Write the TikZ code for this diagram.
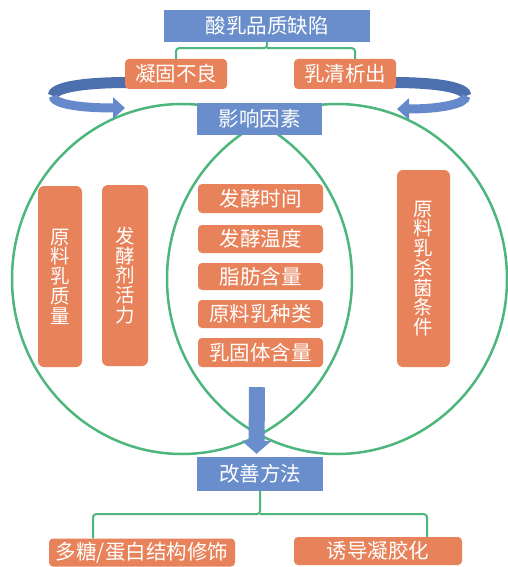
\documentclass[tikz,border=0pt]{standalone}
\usepackage{fontspec}
\newfontfamily\cjk{Noto Sans CJK SC}
\usetikzlibrary{arrows.meta,calc,backgrounds}
\definecolor{org}{HTML}{E8825A}
\definecolor{blu}{HTML}{6A8ECB}
\definecolor{grn}{HTML}{4DB67D}
\definecolor{arb}{HTML}{6589CB}
\definecolor{ard}{HTML}{4C6FAE}
\begin{document}
\begin{tikzpicture}[x=1pt,y=-1pt,
  txt/.style={text=white,inner sep=0pt,font=\cjk\fontsize{20.5}{21}\selectfont},
  obox/.style={txt,fill=org,rounded corners=4pt},
  bbox/.style={txt,fill=blu},
  vbox/.style={obox,rounded corners=6pt,align=center,font=\cjk\fontsize{19.5}{19.7}\selectfont},
  gline/.style={draw=grn,line width=2pt},
  circ/.style={draw=grn,line width=2.5pt}]
\useasboundingbox (0,0) rectangle (508,567);

% header
\node[bbox,minimum width=206pt,minimum height=32pt] (top) at (267,26) {酸乳品质缺陷};
\node[obox,minimum width=102pt,minimum height=30pt] (b1) at (176,74) {凝固不良};
\node[obox,minimum width=102pt,minimum height=30pt] (b2) at (345,74) {乳清析出};
\node[bbox,minimum width=125pt,minimum height=32pt] (f) at (259.5,119) {影响因素};

% factors
\node[vbox,minimum width=44pt,minimum height=181pt] (l1) at (60,276.5) {原\\料\\乳\\质\\量};
\node[vbox,minimum width=46pt,minimum height=181pt] (l2) at (125,275.5) {发\\酵\\剂\\活\\力};
\node[vbox,minimum width=53pt,minimum height=197pt] (r1) at (423.5,268.5) {原\\料\\乳\\杀\\菌\\条\\件};
\node[obox,minimum width=125pt,minimum height=29pt] (c1) at (260.5,198.5) {发酵时间};
\node[obox,minimum width=125pt,minimum height=28pt] (c2) at (260.5,239) {发酵温度};
\node[obox,minimum width=125pt,minimum height=27pt] (c3) at (260.5,276.5) {脂肪含量};
\node[obox,minimum width=125pt,minimum height=28pt] (c4) at (260.5,314) {原料乳种类};
\node[obox,minimum width=125pt,minimum height=29pt] (c5) at (260.5,352.5) {乳固体含量};

% improvement
\node[bbox,minimum width=126pt,minimum height=34pt] (m) at (260,474) {改善方法};
\node[obox,minimum width=186pt,minimum height=28pt] (d1) at (142,552.5) {多糖/蛋白结构修饰};
\node[obox,minimum width=168pt,minimum height=28pt] (d2) at (378,551) {诱导凝胶化};

\begin{scope}[on background layer]
  \draw[circ] (182,279) ellipse [x radius=170pt, y radius=175pt];
  \draw[circ] (337,279) ellipse [x radius=170pt, y radius=175pt];
  % left curved arrow
  \coordinate (la0) at ($(b1.west)+(4,8.5)$);
  \coordinate (la1) at (53,96);
  \coordinate (la2) at (125,108);
  \draw[line width=11pt,draw=ard] (la0) .. controls (80,82.5) and (53,88) .. (la1);
  \draw[line width=9pt,draw=arb,-{Triangle[width=21pt,length=12pt]}] (la1) .. controls (53,104) and (80,108) .. (la2);
  % right curved arrow
  \coordinate (ra0) at ($(b2.east)+(-4,8.5)$);
  \coordinate (ra1) at (466,96);
  \coordinate (ra2) at (397,109);
  \draw[line width=11pt,draw=ard] (ra0) .. controls (440,82.5) and (466,88) .. (ra1);
  \draw[line width=9pt,draw=arb,-{Triangle[width=21pt,length=12pt]}] (ra1) .. controls (466,104) and (440,109) .. (ra2);
\end{scope}

% brackets
\coordinate (tj) at ($(top.south)+(0,6)$);
\draw[gline,rounded corners=3pt] (b1.north) |- (tj) -- (top.south);
\draw[gline,rounded corners=3pt] ($(b2.north)+(10,0)$) |- (tj);
\coordinate (bj) at ($(m.south)+(0,23)$);
\draw[gline,rounded corners=3pt] (m.south) -- (bj) -| ($(d1.north)+(-49,0)$);
\draw[gline,rounded corners=3pt] (bj) -| ($(d2.north)+(49,0)$);

% down arrow
\draw[line width=16pt,draw=blu,-{Triangle[width=29pt,length=13pt]}] ($(c5.south)+(-3.5,20)$) -- ($(m.north)+(-3.5,-3)$);
\end{tikzpicture}
\end{document}
